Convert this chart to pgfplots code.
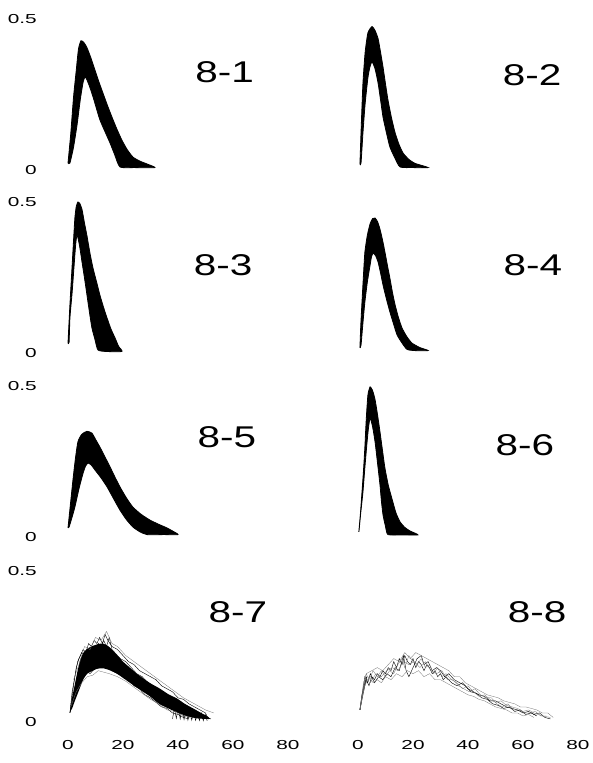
\documentclass[border=0pt]{standalone}
\usepackage{fontspec}
\setmainfont{Liberation Sans}[FakeStretch=1.6]
\newfontfamily\labelfont{Liberation Sans}[FakeStretch=1.35]
\usepackage{pgfplots}
\pgfplotsset{compat=1.18}
\pgfplotsset{
  panel/.style={
    scale only axis, width=220pt, height=151pt,
    xmin=0, xmax=80, ymin=0, ymax=0.5,
    axis line style={draw=none}, major tick length=0pt, tick style={draw=none},
    xtick=\empty, ytick=\empty, clip=false, anchor=south west,
    tick label style={font=\fontsize{13}{13}\selectfont},
    /pgf/number format/assume math mode=true,
    yticklabel style={anchor=east, inner sep=0pt, xshift=-31pt},
    xticklabel style={anchor=north, inner sep=0pt, yshift=-18pt},
    yticklabels={0,0.5},
  },
  leftcol/.style={ytick={0,0.5}},
  bottomrow/.style={xtick={0,20,40,60,80}},
  band/.style={fill=black, draw=black, line width=0.8pt, smooth, tension=0.35},
  trace/.style={black, line width=0.4pt},
  ltrace/.style={black!55, line width=0.3pt},
}
\newcommand{\plabel}[3]{\node[font=\labelfont\fontsize{30}{30}\selectfont] at (axis cs:#1,#2) {#3};}
\begin{document}
\begin{tikzpicture}
\path[use as bounding box] (0,0) rectangle (592pt,763pt);
% ---------- 8-1
\begin{axis}[panel, leftcol, at={(68pt,593pt)}]
\addplot[band] coordinates {
(0,0.023) (1,0.12) (2,0.24) (3,0.33) (3.8,0.40) (4.7,0.428) (5.8,0.422) (6.9,0.405) (8.3,0.372) (9.8,0.331) (11.2,0.293) (12.7,0.255) (14.3,0.215) (16.0,0.175) (17.8,0.135) (19.6,0.099) (21.5,0.068) (23.6,0.043) (26,0.030) (28.7,0.020) (31.6,0.008)
(24,0.008) (18.9,0.010) (17,0.05) (15.3,0.089) (13.4,0.128) (11.6,0.166) (10.3,0.205) (9.1,0.242) (7.9,0.275) (6.9,0.298) (6.2,0.308) (5.5,0.291) (4.5,0.235) (3.3,0.15) (2,0.075) (0.7,0.023) (0,0.023)};
\plabel{57}{0.324}{8-1}
\end{axis}
% ---------- 8-2
\begin{axis}[panel, at={(358pt,593pt)}]
\addplot[band] coordinates {
(0.7,0.02) (1.2,0.15) (1.8,0.288) (2.6,0.39) (3.6,0.454) (5.1,0.475) (6.2,0.462) (7.3,0.435) (8.2,0.39) (9.1,0.341) (10.0,0.285) (10.9,0.232) (12.2,0.172) (13.5,0.123) (14.9,0.085) (16.4,0.056) (18.5,0.035) (20.7,0.022) (25.5,0.008)
(20,0.008) (15.3,0.010) (13.4,0.040) (11.6,0.076) (10.3,0.125) (9.1,0.175) (8.2,0.232) (7.3,0.288) (6.2,0.335) (5.1,0.358) (4.3,0.340) (3.6,0.305) (2.6,0.22) (1.8,0.123) (1.1,0.023) (0.7,0.02)};
\plabel{63.3}{0.315}{8-2}
\end{axis}
% ---------- 8-3
\begin{axis}[panel, leftcol, at={(68pt,410pt)}]
\addplot[band] coordinates {
(0,0.033) (0.7,0.16) (1.45,0.281) (2.0,0.37) (2.5,0.447) (3.0,0.485) (3.6,0.500) (4.3,0.495) (5.1,0.475) (6.0,0.43) (6.9,0.388) (8.0,0.33) (9.1,0.281) (10.4,0.235) (11.6,0.192) (12.9,0.152) (14.2,0.116) (15.6,0.080) (17.1,0.050) (18.4,0.022) (19.6,0.005)
(14,0.005) (10.9,0.010) (9.8,0.045) (8.7,0.083) (7.8,0.135) (6.9,0.192) (6.0,0.248) (5.1,0.301) (4.2,0.355) (3.3,0.391) (2.8,0.36) (2.3,0.30) (1.5,0.20) (0.7,0.116) (0.4,0.036) (0,0.033)};
\plabel{56.4}{0.29}{8-3}
\end{axis}
% ---------- 8-4
\begin{axis}[panel, at={(358pt,410pt)}]
\addplot[band] coordinates {
(0.7,0.017) (1.0,0.09) (1.45,0.169) (2.0,0.26) (2.5,0.334) (3.4,0.39) (4.4,0.428) (5.3,0.445) (6.2,0.447) (7.1,0.435) (8.0,0.410) (8.9,0.375) (9.8,0.334) (10.7,0.290) (11.6,0.248) (12.5,0.202) (13.5,0.159) (14.7,0.118) (16.0,0.083) (17.7,0.055) (19.6,0.033) (22.5,0.018) (25.5,0.008)
(20.5,0.008) (17.8,0.012) (16.0,0.033) (14.2,0.060) (12.9,0.097) (11.6,0.136) (10.3,0.180) (9.1,0.225) (8.2,0.265) (7.3,0.301) (6.4,0.322) (5.5,0.331) (4.9,0.318) (4.4,0.291) (3.4,0.235) (2.5,0.169) (1.8,0.10) (1.1,0.026) (0.7,0.017)};
\plabel{63.6}{0.29}{8-4}
\end{axis}
% ---------- 8-5
\begin{axis}[panel, leftcol, at={(68pt,226pt)}]
\addplot[band] coordinates {
(0,0.030) (0.9,0.11) (1.8,0.189) (2.7,0.26) (3.6,0.315) (5.0,0.340) (6.9,0.350) (8.7,0.344) (10.1,0.322) (11.6,0.298) (13.4,0.266) (15.3,0.232) (17.1,0.198) (18.9,0.166) (21.2,0.130) (23.6,0.099) (26.6,0.075) (29.8,0.056) (33,0.042) (36.0,0.030) (38,0.020) (40.0,0.008)
(35,0.008) (28.7,0.008) (26,0.018) (23.6,0.033) (21.2,0.058) (18.9,0.089) (16.5,0.128) (14.2,0.166) (12.0,0.196) (9.8,0.222) (8.5,0.238) (7.3,0.245) (6.4,0.235) (5.5,0.212) (4.0,0.16) (2.5,0.099) (1.3,0.06) (0.4,0.033) (0,0.030)};
\plabel{57.8}{0.331}{8-5}
\end{axis}
% ---------- 8-6
\begin{axis}[panel, at={(358pt,226pt)}]
\addplot[band] coordinates {
(0.3,0.017) (0.9,0.08) (1.45,0.149) (2.0,0.22) (2.5,0.298) (3.0,0.39) (3.6,0.470) (4.4,0.497) (5.3,0.485) (6.2,0.455) (7.1,0.405) (8.0,0.348) (8.9,0.287) (9.8,0.228) (11.0,0.172) (12.4,0.125) (13.8,0.080) (15.3,0.050) (17,0.032) (18.9,0.020) (21.8,0.007)
(16,0.007) (10.9,0.008) (10.0,0.035) (9.1,0.073) (8.5,0.120) (8.0,0.172) (7.1,0.245) (6.2,0.315) (5.3,0.365) (4.4,0.394) (3.8,0.36) (3.3,0.315) (2.5,0.23) (1.8,0.149) (1.0,0.08) (0.4,0.023) (0.3,0.017)};
\plabel{60.7}{0.305}{8-6}
\end{axis}
% ---------- 8-7
\begin{axis}[panel, leftcol, bottomrow, at={(68pt,41pt)}]
\addplot[fill=black, draw=none, smooth, tension=0.35] coordinates {
(0.7,0.033) (1.5,0.08) (2.5,0.125) (3.5,0.17) (4.4,0.205) (5.5,0.228) (6.9,0.242) (9,0.252) (11,0.258) (12.7,0.260) (14.5,0.252) (16,0.240) (17.8,0.222) (20,0.200) (22.5,0.180) (25,0.160) (27.3,0.145) (30,0.128) (33.5,0.110) (36.5,0.092) (39.6,0.078) (42.5,0.060) (45.5,0.045) (48,0.032) (50.5,0.020) (51.6,0.010)
(46.9,0.012) (43,0.020) (39.6,0.032) (36.5,0.045) (33.5,0.058) (31.5,0.072) (29.8,0.085) (26,0.108) (22.5,0.130) (20,0.146) (17.8,0.160) (15,0.172) (12.7,0.178) (10.5,0.176) (9.1,0.170) (7,0.160) (5.5,0.140) (4,0.105) (2.5,0.070) (1.5,0.045) (0.7,0.033)};
\addplot[trace] coordinates {(0.7,0.03) (1.5,0.10) (2.5,0.15) (3.5,0.20) (4.5,0.22) (5.5,0.24) (6.5,0.23) (7.5,0.26) (8.5,0.25) (9.5,0.27) (10.5,0.26) (11.5,0.28) (12.5,0.26) (13.5,0.29) (14.5,0.27) (16,0.25) (18,0.24) (20,0.22) (22,0.20) (24,0.19) (26,0.17) (28,0.16) (30,0.15) (32,0.14) (34,0.12) (36,0.11) (38,0.10) (40,0.08) (42,0.075) (44,0.06) (46,0.05) (48,0.04) (50,0.03) (51,0.01)};
\addplot[trace] coordinates {(0.7,0.03) (2,0.08) (3.5,0.12) (5,0.15) (6.5,0.17) (8,0.16) (10,0.18) (12,0.19) (14,0.18) (16,0.17) (18,0.16) (20,0.15) (22,0.14) (24,0.12) (26,0.11) (28,0.09) (30,0.08) (32,0.065) (34,0.05) (36,0.045) (38,0.03) (40,0.025) (42,0.015) (44,0.01)};
\addplot[trace] coordinates {(0.7,0.03) (2,0.12) (3,0.18) (4,0.21) (5,0.23) (6,0.22) (7,0.24) (8,0.23) (9,0.25) (10,0.24) (11,0.26) (12,0.25) (13,0.27) (14,0.25) (15,0.28) (16,0.24) (17,0.23) (19,0.21) (21,0.20) (23,0.18) (25,0.16) (27,0.15) (29,0.13) (31,0.12) (33,0.11) (35,0.09) (37,0.085) (39,0.07) (41,0.06) (43,0.045) (45,0.04) (47,0.025) (49,0.02) (52,0.01)};
\addplot[ltrace] coordinates {(2,0.14) (4,0.19) (6,0.25) (8,0.24) (10,0.28) (12,0.27) (14,0.30) (16,0.26) (18,0.25) (21,0.22) (24,0.20) (27,0.18) (30,0.16) (33,0.14) (36,0.12) (39,0.10) (42,0.08) (45,0.065) (48,0.05) (50,0.04) (53,0.03)};
\addplot[ltrace] coordinates {(1,0.05) (3,0.10) (5,0.13) (7,0.15) (9,0.155) (11,0.17) (13,0.165) (15,0.16) (18,0.15) (21,0.135) (24,0.115) (27,0.095) (30,0.075) (33,0.06) (36,0.04) (39,0.035) (42,0.02) (45,0.012)};
\addplot[trace] coordinates {(38,0.01) (38.7,0.045) (39.4,0.012) (40.1,0.05) (40.8,0.01) (41.5,0.045) (42.2,0.008) (42.9,0.04) (43.6,0.006) (44.3,0.04) (45,0.006) (45.7,0.035) (46.4,0.005) (47.1,0.03) (47.8,0.005) (48.5,0.03) (49.2,0.004) (49.9,0.025) (50.6,0.004)};
\plabel{61.8}{0.364}{8-7}
\end{axis}
% ---------- 8-8
\begin{axis}[panel, bottomrow, at={(358pt,41pt)}]
\addplot[trace, line width=0.7pt] coordinates {(0.7,0.04) (1.5,0.09) (2.5,0.13) (3.2,0.15)};
\addplot[trace] coordinates {(0.7,0.04) (2,0.10) (3,0.14) (4,0.12) (5,0.15) (6,0.14) (7,0.16) (8,0.15) (9,0.17) (10,0.16) (11,0.18) (12,0.17) (13,0.20) (14,0.18) (15,0.21) (16,0.19) (17,0.22) (18,0.20) (19,0.19) (20,0.21) (21,0.18) (22,0.20) (23,0.19) (24,0.17) (25,0.19) (26,0.18) (27,0.16) (28,0.17) (29,0.15) (30,0.16) (31,0.14) (32,0.15) (34,0.13) (36,0.12) (38,0.13) (40,0.11) (42,0.10) (44,0.09) (46,0.085) (48,0.07) (50,0.07) (52,0.06) (54,0.05) (56,0.045) (58,0.04) (60,0.03) (62,0.035) (64,0.025) (66,0.03) (68,0.015) (70,0.01)};
\addplot[trace] coordinates {(0.7,0.04) (1.5,0.09) (2.5,0.15) (3.5,0.13) (4.5,0.16) (6,0.13) (7.5,0.15) (9,0.14) (10.5,0.16) (12,0.15) (13.5,0.18) (15,0.17) (16.5,0.22) (17.5,0.17) (18.5,0.15) (20,0.18) (21.5,0.21) (23,0.22) (24,0.19) (25.5,0.20) (27,0.17) (28.5,0.18) (30,0.17) (31.5,0.15) (33,0.16) (35,0.14) (37,0.13) (39,0.12) (41,0.10) (43,0.095) (45,0.08) (47,0.075) (49,0.06) (51,0.055) (53,0.045) (55,0.05) (57,0.035) (59,0.04) (61,0.025) (63,0.03) (65,0.02)};
\addplot[ltrace] coordinates {(0.7,0.04) (2,0.13) (3,0.16) (4,0.14) (5.5,0.17) (7,0.15) (8.5,0.17) (10,0.15) (11.5,0.17) (13,0.16) (14.5,0.19) (16,0.21) (17,0.18) (18.5,0.22) (20,0.20) (21.5,0.19) (23,0.21) (24.5,0.18) (26,0.19) (27.5,0.16) (29,0.18) (30.5,0.15) (32,0.16) (34,0.14) (36,0.13) (38,0.11) (40,0.12) (42,0.10) (44,0.085) (46,0.09) (48,0.075) (50,0.065) (52,0.07) (54,0.055) (56,0.05) (58,0.045) (60,0.035) (62,0.04) (64,0.03) (67,0.02) (70,0.015)};
\addplot[ltrace] coordinates {(0.7,0.04) (2.5,0.12) (4,0.15) (5.5,0.13) (7,0.14) (8.5,0.13) (10,0.15) (12,0.14) (14,0.16) (16,0.15) (18,0.17) (20,0.16) (22,0.17) (24,0.15) (26,0.16) (28,0.14) (30,0.14) (32,0.13) (34,0.12) (36,0.11) (38,0.10) (40,0.09) (42,0.085) (44,0.075) (46,0.07) (48,0.06) (50,0.05) (52,0.045) (54,0.04) (56,0.03) (58,0.03) (60,0.02) (62,0.025) (64,0.015)};
\addplot[ltrace] coordinates {(0.7,0.04) (3,0.16) (5,0.17) (7,0.18) (9,0.17) (11,0.19) (13,0.21) (15,0.20) (17,0.23) (19,0.21) (21,0.23) (23,0.22) (25,0.21) (27,0.20) (29,0.19) (31,0.18) (33,0.17) (35,0.15) (37,0.15) (39,0.13) (41,0.12) (43,0.11) (45,0.10) (47,0.09) (49,0.085) (51,0.08) (53,0.07) (55,0.065) (57,0.06) (59,0.05) (61,0.05) (63,0.045) (65,0.04) (67,0.03) (69,0.03) (71,0.015)};
\addplot[ltrace] coordinates {(1,0.06) (2.5,0.14) (4.5,0.13) (6.5,0.16) (8.5,0.15) (10.5,0.17) (12.5,0.18) (14.5,0.17) (16.5,0.20) (18.5,0.19) (20.5,0.20) (22.5,0.18) (24.5,0.20) (26.5,0.17) (28.5,0.16) (30.5,0.17) (32.5,0.14) (34.5,0.14) (36.5,0.12) (38.5,0.11) (40.5,0.10) (42.5,0.11) (44.5,0.09) (46.5,0.08) (48.5,0.08) (50.5,0.06) (52.5,0.05) (54.5,0.06) (56.5,0.04) (58.5,0.04) (60.5,0.03) (62.5,0.03) (64.5,0.035) (66.5,0.02) (68.5,0.02)};
\plabel{65.1}{0.364}{8-8}
\end{axis}
\end{tikzpicture}
\end{document}
